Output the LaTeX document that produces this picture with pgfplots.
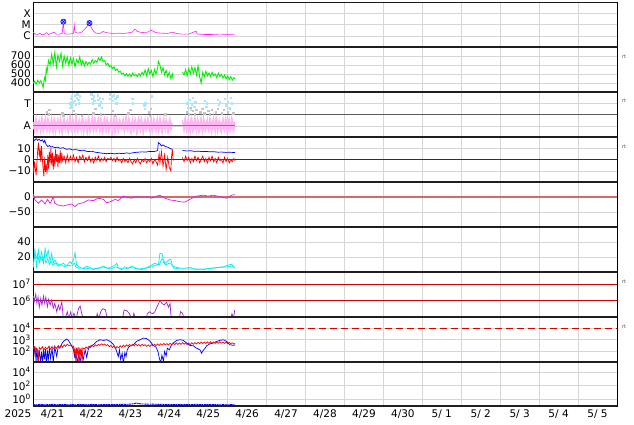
\documentclass[border=0pt]{standalone}
\usepackage{pgfplots}
\pgfplotsset{compat=1.18}
\usepackage{fontspec}
\setmainfont{DejaVu Sans}
\definecolor{gridc}{HTML}{D6D6D6}
\definecolor{xraym}{HTML}{FF22FF}
\definecolor{swgreen}{HTML}{00F000}
\definecolor{ltblue}{HTML}{A8E6FA}
\definecolor{ltpink}{HTML}{FFB4F4}
\definecolor{ltgray}{HTML}{C4C4C4}
\definecolor{dstm}{HTML}{E01EE0}
\definecolor{cyanl}{HTML}{00EEEE}
\definecolor{purp}{HTML}{A020D0}
\definecolor{zred}{HTML}{A00000}
\definecolor{pinkred}{HTML}{D46A6A}
\definecolor{lred}{HTML}{CC0000}
\newcommand{\tl}{\fontsize{10.5}{12}\selectfont}
\begin{document}
\begin{tikzpicture}
\useasboundingbox (0pt,0pt) rectangle (634pt,424pt);
\pgfplotsset{
 panel/.style={at={(33pt,#1pt)}, anchor=south west, scale only axis,
   width=584pt, height=45pt, xmin=0, xmax=15,
   /pgf/number format/assume math mode=true,
   xtick={0.5,1.5,...,14.5}, xticklabels={},
   minor xtick={1,2,...,14}, xminorgrids=true, ymajorgrids=true,
   major grid style={gridc, line width=0.5pt},
   minor grid style={gridc, line width=0.5pt},
   major tick length=0pt, minor tick length=0pt,
   axis line style={black, line width=0.6pt},
   tick label style={font=\tl},
   yticklabel style={inner xsep=2pt, inner ysep=0pt},
   unbounded coords=jump,
   every axis plot/.append style={line width=0.7pt},
 }
}
% ---------- panel 1: X-ray
\begin{axis}[panel=377, ymode=log, ymin=1e-7, ymax=1e-3,
  ytick={1e-6,1e-5,1e-4}, yticklabels={C,M,X}]
\addplot[xraym, line width=0.6pt] coordinates {(0.00,2.1e-6)(0.05,1.4e-6)(0.12,1.3e-6)(0.18,1.7e-6)(0.22,1.2e-6)(0.30,1.4e-6)(0.35,1.9e-6)(0.40,1.3e-6)(0.48,1.7e-6)(0.55,2.1e-6)(0.60,1.4e-6)(0.68,1.4e-6)(0.75,1.7e-6)(0.78,1.8e-5)(0.80,1.7e-6)(0.85,1.4e-6)(0.95,1.4e-6)(1.04,1.7e-6)(1.06,9e-6)(1.08,2.1e-6)(1.15,1.7e-6)(1.25,2.1e-6)(1.33,4e-6)(1.40,7.4e-6)(1.45,1.35e-5)(1.49,6e-6)(1.55,2.6e-6)(1.62,1.7e-6)(1.72,1.6e-6)(1.80,2.4e-6)(1.88,1.9e-6)(1.98,1.7e-6)(2.10,1.6e-6)(2.20,1.7e-6)(2.30,1.6e-6)(2.40,1.7e-6)(2.55,2.1e-6)(2.62,4e-6)(2.68,2.4e-6)(2.80,1.9e-6)(2.95,2.1e-6)(3.03,3.2e-6)(3.08,2.6e-6)(3.15,1.9e-6)(3.30,1.7e-6)(3.45,1.6e-6)(3.60,2.1e-6)(3.65,1.7e-6)(3.80,1.4e-6)(4.00,1.4e-6)(4.19,2.6e-6)(4.22,1.4e-6)(4.40,1.3e-6)(4.60,1.3e-6)(4.80,1.4e-6)(5.00,1.3e-6)(5.19,1.4e-6)};
\addplot[only marks, mark=otimes*, mark size=2.6pt, mark options={draw=blue, fill=blue!25, line width=0.6pt}] coordinates {(0.78,1.8e-5)(1.45,1.35e-5)};
\end{axis}
% ---------- panel 2: speed
\begin{axis}[panel=332, ymin=300, ymax=800, ytick={400,500,600,700}]
\addplot[swgreen, line width=0.9pt] coordinates {(0.00,395)(0.04,420)(0.08,385)(0.12,430)(0.16,400)(0.20,425)(0.24,380)(0.26,350)(0.28,415)(0.30,460)(0.32,430)(0.34,560)(0.36,520)(0.40,650)(0.44,600)(0.48,720)(0.52,610)(0.56,740)(0.60,580)(0.64,710)(0.68,640)(0.72,730)(0.76,590)(0.80,700)(0.84,620)(0.88,690)(0.92,600)(0.96,680)(1.00,610)(1.04,670)(1.08,580)(1.12,660)(1.16,620)(1.20,690)(1.24,600)(1.28,650)(1.32,590)(1.36,640)(1.40,600)(1.44,630)(1.48,610)(1.52,660)(1.56,620)(1.60,650)(1.64,630)(1.68,680)(1.72,650)(1.76,690)(1.80,640)(1.84,650)(1.88,600)(1.92,620)(1.96,580)(2.00,595)(2.04,560)(2.08,580)(2.12,540)(2.16,555)(2.20,520)(2.24,530)(2.28,500)(2.32,510)(2.36,480)(2.40,505)(2.44,475)(2.48,500)(2.52,470)(2.56,510)(2.60,480)(2.64,495)(2.68,470)(2.72,505)(2.76,480)(2.80,520)(2.84,490)(2.88,545)(2.92,480)(2.96,560)(3.00,500)(3.04,540)(3.08,470)(3.12,550)(3.16,500)(3.20,560)(3.22,640)(3.26,600)(3.30,520)(3.34,570)(3.38,490)(3.42,540)(3.46,470)(3.50,520)(3.54,450)(3.58,500)(3.60,440)(3.70,nan)(3.84,520)(3.88,490)(3.92,550)(3.96,480)(4.00,560)(4.04,500)(4.08,580)(4.12,510)(4.16,570)(4.20,490)(4.24,590)(4.28,470)(4.32,400)(4.36,520)(4.40,470)(4.44,530)(4.48,480)(4.52,510)(4.56,470)(4.60,520)(4.64,480)(4.68,500)(4.72,460)(4.76,510)(4.80,470)(4.84,495)(4.88,455)(4.92,490)(4.96,445)(5.00,480)(5.04,440)(5.08,470)(5.12,430)(5.16,460)(5.19,445)};
\end{axis}
% ---------- panel 3: T / A
\begin{axis}[panel=287, ymin=0, ymax=4, ytick={1,3}, yticklabels={A,T}]
\addplot[black!65, line width=0.8pt] coordinates {(0,2)(15,2)};
\addplot[only marks, mark=square*, mark size=0.7pt, ltgray, mark options={draw=ltgray, fill=ltgray}] coordinates {(0.35,2.2)(0.40,2.0)(0.42,2.4)(0.75,2.1)(0.78,1.9)(1.05,2.3)(1.10,2.0)(1.25,1.9)(1.55,2.1)(1.60,2.5)(1.75,2.0)(2.05,2.3)(2.10,1.9)(2.45,2.1)(2.50,2.4)(2.98,2.2)(3.00,1.9)(3.02,2.5)(3.40,2.0)(3.95,2.2)(4.00,2.0)(4.05,2.6)(4.10,2.3)(4.15,2.0)(4.20,2.4)(4.30,2.2)(4.35,2.5)(4.40,2.1)(4.50,2.3)(4.55,2.0)(4.60,2.4)(4.70,2.2)(4.75,2.5)(4.85,2.1)(4.90,2.4)(5.00,2.2)(5.05,2.5)(5.15,2.1)};
\addplot[ltpink, line width=7pt] coordinates {(0,1.05)(3.58,1.05)(3.70,nan)(3.84,1.05)(5.19,1.05)};
\addplot[ltpink, line width=1.1pt] coordinates {(0.00,1.3)(0.04,0.5)(0.08,1.7)(0.12,0.6)(0.16,1.5)(0.20,0.4)(0.24,1.6)(0.28,0.7)(0.32,1.8)(0.36,0.5)(0.40,1.4)(0.44,0.6)(0.48,1.7)(0.52,0.4)(0.56,1.5)(0.60,0.8)(0.64,1.6)(0.68,0.5)(0.72,1.3)(0.76,0.4)(0.80,1.7)(0.84,0.6)(0.88,1.5)(0.92,0.5)(0.96,1.8)(1.00,0.7)(1.04,1.4)(1.08,0.4)(1.12,1.6)(1.16,0.6)(1.20,1.5)(1.24,0.5)(1.28,1.7)(1.32,0.7)(1.36,1.4)(1.40,0.4)(1.44,1.6)(1.48,0.6)(1.52,1.8)(1.56,0.5)(1.60,1.5)(1.64,0.7)(1.68,1.6)(1.72,0.4)(1.76,1.4)(1.80,0.6)(1.84,1.7)(1.88,0.5)(1.92,1.5)(1.96,0.7)(2.00,1.6)(2.04,0.4)(2.08,1.8)(2.12,0.6)(2.16,1.5)(2.20,0.5)(2.24,1.4)(2.28,0.7)(2.32,1.6)(2.36,0.5)(2.40,1.7)(2.44,0.6)(2.48,1.4)(2.52,0.4)(2.56,1.6)(2.60,0.7)(2.64,1.5)(2.68,0.5)(2.72,1.8)(2.76,0.6)(2.80,1.4)(2.84,0.4)(2.88,1.6)(2.92,0.7)(2.96,1.5)(3.00,0.5)(3.04,1.7)(3.08,0.6)(3.12,1.4)(3.16,0.5)(3.20,1.6)(3.24,0.7)(3.28,1.5)(3.32,0.4)(3.36,1.7)(3.40,0.6)(3.44,1.4)(3.48,0.5)(3.52,1.6)(3.56,0.7)(3.70,nan)(3.84,1.5)(3.88,0.5)(3.92,1.7)(3.96,0.6)(4.00,1.4)(4.04,0.4)(4.08,1.6)(4.12,0.7)(4.16,1.8)(4.20,0.5)(4.24,1.5)(4.28,0.6)(4.32,1.7)(4.36,0.4)(4.40,1.4)(4.44,0.7)(4.48,1.6)(4.52,0.5)(4.56,1.5)(4.60,0.6)(4.64,1.8)(4.68,0.4)(4.72,1.6)(4.76,0.7)(4.80,1.4)(4.84,0.5)(4.88,1.7)(4.92,0.6)(4.96,1.5)(5.00,0.4)(5.04,1.6)(5.08,0.7)(5.12,1.5)(5.16,0.6)(5.19,1.3)};
\addplot[ltpink, line width=1.1pt] coordinates {(0.02,0.9)(0.06,1.5)(0.10,0.5)(0.14,1.3)(0.18,0.7)(0.22,1.6)(0.26,0.5)(0.30,1.4)(0.34,0.8)(0.38,1.7)(0.42,0.5)(0.46,1.3)(0.50,0.6)(0.54,1.6)(0.58,0.4)(0.62,1.4)(0.66,0.7)(0.70,1.7)(0.74,0.5)(0.78,1.5)(0.82,0.8)(0.86,1.3)(0.90,0.4)(0.94,1.6)(0.98,0.6)(1.02,1.5)(1.06,0.7)(1.10,1.7)(1.14,0.5)(1.18,1.4)(1.22,0.8)(1.26,1.6)(1.30,0.4)(1.34,1.5)(1.38,0.6)(1.42,1.7)(1.46,0.5)(1.50,1.3)(1.54,0.7)(1.58,1.6)(1.62,0.5)(1.66,1.4)(1.70,0.8)(1.74,1.7)(1.78,0.4)(1.82,1.5)(1.86,0.6)(1.90,1.6)(1.94,0.5)(1.98,1.3)(2.02,0.7)(2.06,1.5)(2.10,0.4)(2.14,1.7)(2.18,0.6)(2.22,1.5)(2.26,0.8)(2.30,1.4)(2.34,0.5)(2.38,1.6)(2.42,0.7)(2.46,1.7)(2.50,0.5)(2.54,1.3)(2.58,0.6)(2.62,1.6)(2.66,0.4)(2.70,1.5)(2.74,0.8)(2.78,1.7)(2.82,0.5)(2.86,1.4)(2.90,0.6)(2.94,1.6)(2.98,0.7)(3.02,1.3)(3.06,0.4)(3.10,1.6)(3.14,0.7)(3.18,1.5)(3.22,0.5)(3.26,1.7)(3.30,0.6)(3.34,1.4)(3.38,0.8)(3.42,1.6)(3.46,0.5)(3.50,1.5)(3.54,0.6)(3.58,1.2)(3.70,nan)(3.86,0.8)(3.90,1.6)(3.94,0.5)(3.98,1.5)(4.02,0.7)(4.06,1.7)(4.10,0.5)(4.14,1.4)(4.18,0.8)(4.22,1.6)(4.26,0.4)(4.30,1.5)(4.34,0.7)(4.38,1.7)(4.42,0.5)(4.46,1.3)(4.50,0.6)(4.54,1.6)(4.58,0.4)(4.62,1.4)(4.66,0.8)(4.70,1.7)(4.74,0.5)(4.78,1.5)(4.82,0.6)(4.86,1.3)(4.90,0.7)(4.94,1.6)(4.98,0.5)(5.02,1.4)(5.06,0.6)(5.10,1.7)(5.14,0.5)(5.18,1.2)};
\addplot[only marks, mark=square*, mark size=0.7pt, ltblue, mark options={draw=ltblue, fill=ltblue}] coordinates {(0.95,3.0)(0.96,2.6)(0.97,3.4)(0.99,2.8)(1.0,3.6)(1.01,3.1)(1.07,3.7)(1.08,3.2)(1.10,2.9)(1.12,3.5)(1.14,3.8)(1.16,3.3)(1.18,3.0)(1.20,3.6)(1.50,3.8)(1.52,3.4)(1.54,3.0)(1.56,3.6)(1.58,3.2)(1.66,3.7)(1.68,3.3)(1.70,2.8)(1.72,3.5)(1.74,3.1)(1.77,2.6)(1.80,3.4)(1.97,3.8)(1.99,3.4)(2.02,3.6)(2.05,3.2)(2.08,3.7)(2.11,3.4)(2.14,3.0)(2.17,3.6)(2.55,3.4)(2.56,3.0)(2.86,2.8)(2.88,2.5)(2.89,3.0)(3.06,3.6)(3.96,3.0)(3.99,2.6)(4.02,3.3)(4.05,2.4)(4.08,2.9)(4.11,3.5)(4.14,2.7)(4.17,3.1)(4.42,3.2)(4.45,2.7)(4.47,3.0)(4.75,3.3)(4.78,2.9)(4.80,3.1)(4.93,3.4)(4.96,2.8)(5.00,3.1)(5.04,2.6)(5.08,3.5)(5.11,3.0)};
\addplot[red!75, line width=0.6pt] coordinates {(0,1)(5.19,1)};
\end{axis}
% ---------- panel 4: Bt / Bz
\begin{axis}[panel=242, ymin=-20, ymax=20, ytick={-10,0,10}, yticklabels={−10,0,10}]
\addplot[zred, line width=0.6pt] coordinates {(0,0)(15,0)};
\addplot[red, line width=0.7pt] coordinates {(0.00,-5)(0.02,-12)(0.04,-2)(0.06,-8)(0.08,-14)(0.10,-3)(0.12,8)(0.14,15)(0.16,2)(0.18,10)(0.20,-2)(0.22,12)(0.24,0)(0.26,-8)(0.28,-15)(0.30,2)(0.32,-11)(0.34,-4)(0.36,-13)(0.38,4)(0.40,-8)(0.42,7)(0.44,-3)(0.46,10)(0.48,-5)(0.50,6)(0.52,-9)(0.54,3)(0.56,-6)(0.58,9)(0.60,-2)(0.62,5)(0.64,-7)(0.66,4)(0.68,-3)(0.70,8)(0.72,-4)(0.74,6)(0.76,-1)(0.80,3)(0.84,-3)(0.88,4)(0.92,-2)(0.96,3)(1.00,-1)(1.04,4)(1.08,-2)(1.12,2)(1.16,-3)(1.20,3)(1.24,0)(1.28,4)(1.32,-2)(1.36,2)(1.40,-1)(1.44,3)(1.48,-2)(1.52,1)(1.56,-3)(1.60,2)(1.64,-1)(1.68,3)(1.72,-2)(1.76,1)(1.80,-1)(1.84,2)(1.88,-2)(1.92,1)(1.96,0)(2.00,2)(2.04,-1)(2.08,1)(2.12,-2)(2.16,2)(2.20,-1)(2.24,0)(2.28,-3)(2.32,1)(2.36,-2)(2.40,0)(2.44,-3)(2.48,1)(2.52,-2)(2.56,-4)(2.60,0)(2.64,-3)(2.68,1)(2.72,-2)(2.76,-4)(2.80,0)(2.84,-2)(2.88,1)(2.92,-3)(2.96,0)(3.00,-2)(3.04,1)(3.08,-4)(3.12,0)(3.16,-2)(3.20,-5)(3.24,5)(3.26,-3)(3.30,7)(3.34,-6)(3.38,4)(3.42,-9)(3.46,2)(3.50,-7)(3.54,-10)(3.56,3)(3.58,9)(3.60,-1)(3.70,nan)(3.84,2)(3.88,-2)(3.92,3)(3.96,-1)(4.00,2)(4.04,-3)(4.08,1)(4.12,-2)(4.16,3)(4.20,-1)(4.24,2)(4.28,-3)(4.32,0)(4.36,3)(4.40,-2)(4.44,1)(4.48,-3)(4.52,2)(4.56,-1)(4.60,3)(4.64,-2)(4.68,1)(4.72,-3)(4.76,2)(4.80,-1)(4.84,0)(4.88,-3)(4.92,2)(4.96,-2)(5.00,1)(5.04,-3)(5.08,0)(5.12,-2)(5.16,1)(5.19,-1)};
\addplot[blue, line width=0.7pt] coordinates {(0.00,18)(0.04,17)(0.08,18.5)(0.12,17)(0.16,18)(0.20,16.5)(0.24,17.5)(0.28,15)(0.30,17)(0.34,13)(0.38,11.5)(0.42,12.5)(0.46,11)(0.50,11.5)(0.56,10.5)(0.62,11)(0.70,10)(0.78,10.5)(0.86,9)(0.94,9.5)(1.02,8.5)(1.10,8.8)(1.20,8)(1.30,8.2)(1.40,7)(1.50,7.3)(1.60,6.5)(1.70,6)(1.80,5.5)(1.90,5.2)(2.00,5.5)(2.10,5)(2.20,5.6)(2.30,5.2)(2.40,5.8)(2.50,5.5)(2.60,6.2)(2.70,6.5)(2.80,6.8)(2.90,6.6)(3.00,7.2)(3.10,7)(3.16,7.5)(3.20,8)(3.22,15)(3.26,14)(3.30,12)(3.34,13)(3.40,11.5)(3.46,11)(3.52,9.8)(3.58,9)(3.70,nan)(3.84,8)(3.95,7.6)(4.05,7.8)(4.15,7.2)(4.25,7.4)(4.35,7)(4.45,7.2)(4.55,6.8)(4.65,6.9)(4.75,6.5)(4.85,6.6)(4.95,6.3)(5.05,6.4)(5.19,6.2)};
\end{axis}
% ---------- panel 5: Dst
\begin{axis}[panel=197, ymin=-100, ymax=50, ytick={-50,0}, yticklabels={−50,0}]
\addplot[pinkred, line width=1.5pt] coordinates {(0,0)(15,0)};
\addplot[dstm, line width=0.7pt] coordinates {(0.01,10)(0.05,-10)(0.14,-21)(0.22,-10)(0.31,-23)(0.37,-8)(0.44,-21)(0.52,0)(0.56,-21)(0.65,-27)(0.78,-30)(0.86,-27)(0.99,-23)(1.08,-32)(1.16,-23)(1.29,-19)(1.42,-10)(1.55,-12)(1.68,-4)(1.81,-8)(1.89,-19)(1.98,-16)(2.11,-8)(2.19,-12)(2.32,3)(2.41,-1)(2.53,-4)(2.66,1)(2.79,-1)(2.92,1)(3.05,-4)(3.18,3)(3.26,6)(3.39,-4)(3.52,-10)(3.65,-12)(3.78,-16)(3.90,-17)(4.03,-8)(4.20,3)(4.38,6)(4.50,3)(4.63,6)(4.80,1)(4.97,-4)(5.10,6)(5.19,8)};
\end{axis}
% ---------- panel 6: density
\begin{axis}[panel=152, ymin=0, ymax=60, ytick={20,40}]
\addplot[cyanl, line width=0.7pt] coordinates {(0.01,10)(0.04,22)(0.08,18)(0.12,24)(0.16,12)(0.20,20)(0.25,15)(0.29,22)(0.33,12)(0.38,18)(0.42,10)(0.47,14)(0.51,9)(0.58,12)(0.65,8)(0.72,10)(0.80,7)(0.90,9)(1.00,8)(1.06,12)(1.10,7)(1.20,4)(1.35,5)(1.50,4)(1.70,5)(1.85,6)(2.00,4)(2.12,7)(2.20,5)(2.35,4)(2.50,6)(2.70,4)(2.90,5)(3.05,7)(3.15,9)(3.25,10)(3.30,17)(3.36,16)(3.40,9)(3.50,12)(3.56,10)(3.62,5)(3.80,4)(4.00,4)(4.20,4)(4.40,4)(4.60,5)(4.80,6)(5.00,7)(5.12,8)(5.19,5)};
\addplot[cyanl, line width=0.7pt] coordinates {(0.01,6)(0.05,31.6)(0.09,7)(0.14,29)(0.18,16)(0.22,27)(0.27,11.6)(0.31,31.6)(0.35,20.4)(0.39,29)(0.44,13.8)(0.48,24.9)(0.52,11.6)(0.56,16)(0.61,11.6)(0.69,9.3)(0.78,11.6)(0.86,8)(0.95,13.8)(0.99,11.6)(1.04,16)(1.08,25.8)(1.12,9.3)(1.21,6)(1.29,4.9)(1.38,8)(1.46,6)(1.55,3.1)(1.64,4.9)(1.72,6)(1.81,8)(1.89,4.9)(1.98,6)(2.11,9.3)(2.15,11.6)(2.19,6)(2.28,3.1)(2.36,7)(2.45,4.9)(2.53,8)(2.66,4.9)(2.79,3.1)(2.92,6)(3.05,9.3)(3.13,11.6)(3.22,9.3)(3.26,24.9)(3.32,24)(3.35,12.7)(3.39,11)(3.48,16)(3.54,17)(3.58,8)(3.69,6)(3.86,4.9)(4.03,6)(4.20,3.1)(4.38,3.1)(4.55,4.9)(4.72,6)(4.89,7)(5.02,9.3)(5.10,10.4)(5.15,7)(5.19,6)};
\end{axis}
% ---------- panel 7: electrons
\begin{axis}[panel=107, ymode=log, ymin=1e5, ymax=5.6e7, ytick={1e6,1e7},
  yticklabels={10\textsuperscript{6},10\textsuperscript{7}}]
\addplot[lred, line width=0.6pt] coordinates {(0,1e6)(15,1e6)};
\addplot[lred, line width=0.6pt] coordinates {(0,1e7)(15,1e7)};
\addplot[purp, line width=0.7pt] coordinates {(0.01,1.9e6)(0.03,8.5e5)(0.07,2.5e6)(0.10,6.8e5)(0.13,1.7e6)(0.16,3.9e5)(0.20,1.4e6)(0.23,5.4e5)(0.27,1.9e6)(0.30,6.8e5)(0.33,1.6e6)(0.37,4.3e5)(0.40,1.2e6)(0.44,5.4e5)(0.48,1.1e6)(0.52,3.4e5)(0.56,6.8e5)(0.61,2.1e5)(0.65,5.4e5)(0.69,2.7e5)(0.74,8.5e5)(0.78,8e4)(0.83,8e4)(0.88,2.1e5)(0.92,8e4)(0.97,2.1e5)(1.00,8e4)(1.05,1.7e5)(1.11,8e4)(1.17,3.4e5)(1.21,4.7e5)(1.25,1.7e5)(1.29,8e4)(1.62,8e4)(1.65,1.6e5)(1.69,8e4)(1.74,2.1e5)(1.79,3.2e5)(1.86,2.7e5)(1.91,8e4)(2.30,8e4)(2.34,2.7e5)(2.41,2.4e5)(2.47,1.7e5)(2.53,8e4)(2.56,8e4)(2.59,1.7e5)(2.63,8e4)(2.90,8e4)(2.94,1.6e5)(2.99,2.1e5)(3.04,1.7e5)(3.08,1.6e5)(3.13,2.1e5)(3.18,3.9e5)(3.23,6.8e5)(3.26,1.05e6)(3.31,6.8e5)(3.37,5.4e5)(3.43,8e5)(3.48,3.9e5)(3.52,6.8e5)(3.55,8e4)(3.76,8e4)(3.79,2.1e5)(3.84,1.7e5)(3.88,8e4)(5.08,8e4)(5.11,1.6e5)(5.15,8e4)(5.18,2.7e5)};
\end{axis}
% ---------- panel 8: protons
\begin{axis}[panel=62, ymode=log, ymin=1e1, ymax=1e5, ytick={1e2,1e3,1e4},
  yticklabels={10\textsuperscript{2},10\textsuperscript{3},10\textsuperscript{4}}]
\addplot[red!85!black, line width=0.8pt, dash pattern=on 7pt off 4pt] coordinates {(0,1e4)(15,1e4)};
\addplot[blue, line width=0.7pt] coordinates {(0.01,340)(0.03,60)(0.05,240)(0.08,12)(0.10,170)(0.13,8)(0.16,120)(0.19,10)(0.22,85)(0.24,8)(0.27,120)(0.29,17)(0.32,140)(0.34,8)(0.37,105)(0.39,12)(0.42,160)(0.45,21)(0.49,170)(0.52,10)(0.56,210)(0.61,30)(0.65,275)(0.69,170)(0.74,420)(0.78,680)(0.82,830)(0.86,1100)(0.91,830)(0.95,480)(0.99,300)(1.04,120)(1.07,30)(1.10,85)(1.14,8)(1.17,60)(1.21,10)(1.25,70)(1.29,17)(1.34,120)(1.38,26)(1.42,140)(1.46,240)(1.51,300)(1.55,340)(1.64,680)(1.72,950)(1.81,830)(1.89,950)(1.98,680)(2.05,420)(2.11,210)(2.15,85)(2.19,30)(2.22,120)(2.25,17)(2.29,60)(2.32,8)(2.36,70)(2.39,30)(2.42,120)(2.46,210)(2.51,300)(2.58,340)(2.66,680)(2.75,950)(2.84,1350)(2.92,1200)(3.01,680)(3.09,300)(3.16,210)(3.21,85)(3.24,26)(3.28,8)(3.31,40)(3.35,12)(3.38,85)(3.42,35)(3.45,170)(3.50,120)(3.55,300)(3.60,480)(3.69,830)(3.78,950)(3.86,830)(3.95,480)(4.03,300)(4.12,275)(4.20,170)(4.29,120)(4.33,60)(4.37,105)(4.42,170)(4.46,275)(4.55,420)(4.63,480)(4.72,680)(4.80,830)(4.89,950)(4.97,680)(5.06,340)(5.15,300)(5.19,340)};
\addplot[red, line width=0.7pt] coordinates {(0.00,150)(0.04,220)(0.06,30)(0.08,180)(0.12,110)(0.14,12)(0.16,200)(0.20,130)(0.24,230)(0.28,120)(0.32,210)(0.36,140)(0.40,240)(0.44,130)(0.48,220)(0.52,150)(0.56,250)(0.60,160)(0.64,260)(0.68,180)(0.72,300)(0.76,200)(0.80,340)(0.84,250)(0.88,380)(0.92,280)(0.96,320)(1.00,230)(1.04,260)(1.06,40)(1.08,200)(1.10,8)(1.12,180)(1.14,60)(1.16,210)(1.18,8)(1.20,190)(1.22,50)(1.24,170)(1.26,8)(1.28,180)(1.32,150)(1.36,220)(1.40,160)(1.44,260)(1.48,190)(1.52,300)(1.56,220)(1.60,340)(1.64,260)(1.68,380)(1.72,300)(1.76,420)(1.80,320)(1.84,400)(1.88,280)(1.92,350)(1.96,230)(2.00,300)(2.04,200)(2.08,260)(2.12,150)(2.16,240)(2.20,180)(2.24,280)(2.28,200)(2.32,320)(2.36,230)(2.40,340)(2.44,250)(2.48,360)(2.52,260)(2.56,380)(2.60,270)(2.64,400)(2.68,280)(2.72,360)(2.76,260)(2.80,380)(2.84,280)(2.88,350)(2.92,250)(2.96,330)(3.00,240)(3.04,350)(3.08,260)(3.12,380)(3.16,280)(3.20,400)(3.24,300)(3.28,420)(3.32,310)(3.36,450)(3.40,330)(3.44,430)(3.48,320)(3.52,460)(3.56,340)(3.60,480)(3.64,350)(3.68,500)(3.72,360)(3.76,480)(3.80,370)(3.84,520)(3.88,380)(3.92,500)(3.96,360)(4.00,480)(4.04,350)(4.08,520)(4.12,380)(4.16,540)(4.20,400)(4.24,560)(4.28,420)(4.32,580)(4.36,430)(4.40,600)(4.44,440)(4.48,620)(4.52,450)(4.56,640)(4.60,460)(4.64,600)(4.68,450)(4.72,620)(4.76,460)(4.80,640)(4.84,470)(4.88,600)(4.92,450)(4.96,580)(5.00,430)(5.04,560)(5.08,420)(5.12,500)(5.16,400)(5.19,450)};
\end{axis}
% ---------- panel 9
\begin{axis}[panel=18, height=44pt, ymode=log, ymin=1e-1, ymax=3.16e5, ytick={1,1e2,1e4},
  yticklabels={10\textsuperscript{0},10\textsuperscript{2},10\textsuperscript{4}},
  xticklabels={4/21,4/22,4/23,4/24,4/25,4/26,4/27,4/28,4/29,4/30,5/ 1,5/ 2,5/ 3,5/ 4,5/ 5}]
\addplot[blue, line width=0.9pt, dash pattern=on 2pt off 0.6pt] coordinates {(0.00,0.16)(0.10,0.15)(0.20,0.17)(0.30,0.15)(0.40,0.16)(0.50,0.18)(0.60,0.15)(0.70,0.16)(0.80,0.17)(0.90,0.15)(1.00,0.16)(1.10,0.15)(1.20,0.17)(1.30,0.16)(1.40,0.15)(1.50,0.17)(1.60,0.16)(1.70,0.15)(1.80,0.17)(1.90,0.16)(2.00,0.17)(2.10,0.16)(2.20,0.18)(2.30,0.17)(2.40,0.18)(2.50,0.19)(2.60,0.22)(2.65,0.28)(2.70,0.24)(2.80,0.2)(2.90,0.19)(3.00,0.18)(3.10,0.19)(3.20,0.17)(3.30,0.18)(3.40,0.17)(3.50,0.16)(3.60,0.17)(3.70,0.16)(3.80,0.17)(3.90,0.16)(4.00,0.17)(4.10,0.16)(4.20,0.18)(4.30,0.16)(4.40,0.17)(4.50,0.16)(4.60,0.17)(4.70,0.16)(4.80,0.15)(4.90,0.16)(5.00,0.15)(5.10,0.16)(5.19,0.15)};
\end{axis}
% separators
\draw[black!90, line width=0.9pt] (33pt,422pt) -- (617pt,422pt);
\foreach \yy in {377,332,287,242,197,152,107,62,18} {
  \draw[black!88, line width=1.8pt] (33pt,\yy pt) -- (617pt,\yy pt);
}
\node[font=\tl, anchor=north, inner sep=0.3333em] at (18pt,18pt) {2025};
\foreach \yy in {367,323,277,142,97} {
  \node[font=\fontsize{5}{6}\selectfont, text=black!70] at (624pt,\yy pt) {rt};
}
\end{tikzpicture}
\end{document}
